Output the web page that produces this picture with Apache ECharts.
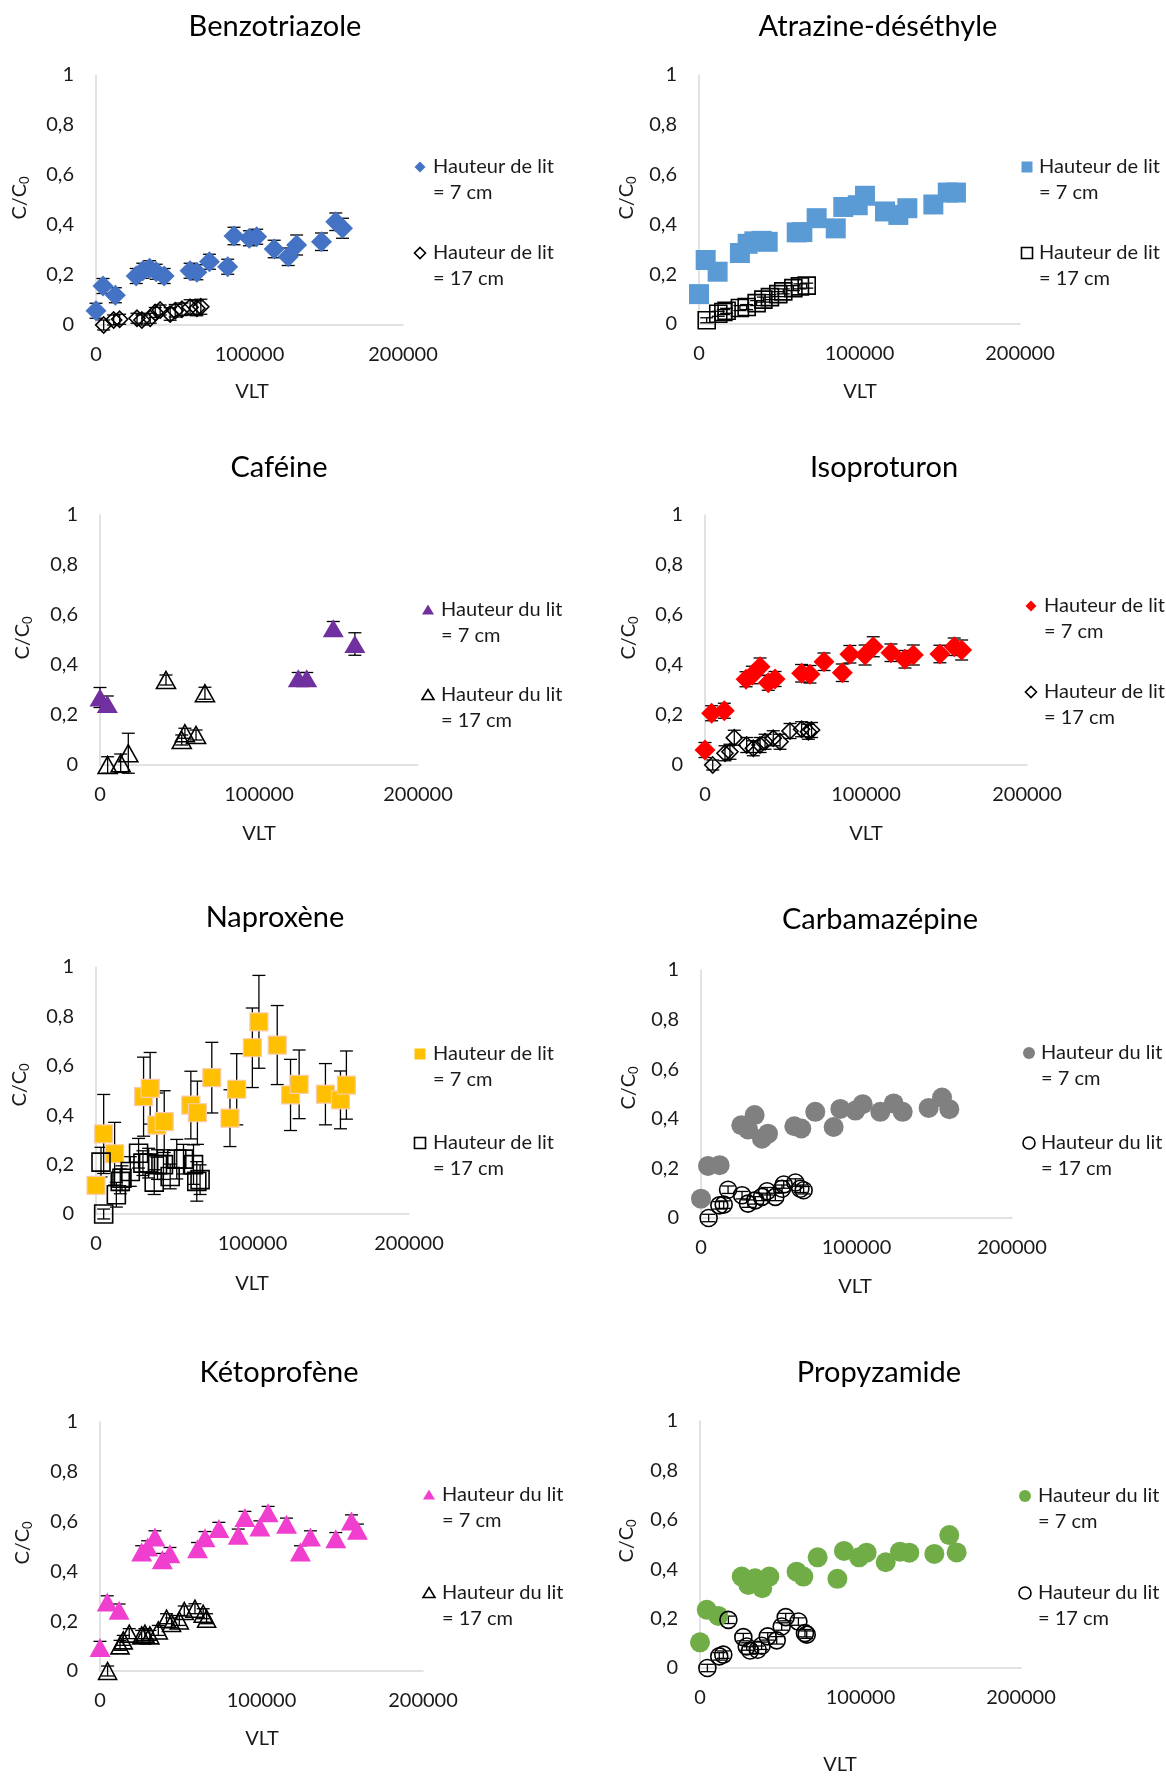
<!DOCTYPE html>
<html><head><meta charset="utf-8">
<script src="https://cdn.jsdelivr.net/npm/echarts@6/dist/echarts.min.js"></script>
<style>html,body{margin:0;padding:0;background:#fff}#c{width:1166px;height:1776px}</style>
</head><body><div id="c"></div>
<script>
// ---- DATA: [VLT, C/C0, error] ----
const xTicks = [0, 100000, 200000];
const yTicks = [0, 0.2, 0.4, 0.6, 0.8, 1];

const benzo7 = [[0,0.057,0.03],[4550,0.156,0.03],[12600,0.119,0.03],[26200,0.196,0.03],[30500,0.217,0.03],[34900,0.227,0.03],[39200,0.213,0.03],[44400,0.196,0.03],[61300,0.217,0.03],[65700,0.211,0.03],[73900,0.253,0.03],[85800,0.233,0.03],[89900,0.356,0.035],[99900,0.347,0.03],[104700,0.353,0.03],[116100,0.304,0.035],[125200,0.273,0.035],[130700,0.32,0.04],[146900,0.333,0.035],[156200,0.413,0.035],[160600,0.387,0.04]];
const benzo17 = [[5000,0.0,0.02],[11500,0.02,0.02],[15400,0.023,0.02],[26700,0.027,0.02],[29900,0.02,0.02],[35300,0.027,0.02],[38600,0.05,0.02],[41800,0.06,0.02],[48300,0.044,0.025],[51600,0.057,0.025],[56000,0.063,0.025],[61300,0.071,0.03],[65700,0.067,0.03],[68300,0.073,0.03]];

const atra7 = [[0,0.12,0.01],[4150,0.257,0.01],[11600,0.21,0.01],[25500,0.285,0.01],[30300,0.322,0.01],[34500,0.332,0.01],[39000,0.334,0.01],[42800,0.33,0.01],[60900,0.368,0.01],[64400,0.369,0.01],[73300,0.425,0.01],[85200,0.384,0.01],[89900,0.47,0.01],[98900,0.477,0.01],[103400,0.515,0.01],[115900,0.452,0.01],[124200,0.438,0.01],[129800,0.465,0.01],[146000,0.48,0.01],[155000,0.528,0.01],[160100,0.528,0.01]];
const atra17 = [[4800,0.015,0.01],[12000,0.041,0.01],[15200,0.048,0.01],[17200,0.053,0.01],[25500,0.064,0.01],[29700,0.068,0.01],[35900,0.084,0.01],[40100,0.098,0.01],[44200,0.108,0.01],[49400,0.12,0.01],[52500,0.131,0.01],[58800,0.144,0.01],[62900,0.151,0.01],[67100,0.154,0.01]];

const caf7 = [[0,0.27,0.04],[4600,0.244,0.032],[124700,0.347,0.023],[130000,0.347,0.023],[146700,0.547,0.027],[160300,0.484,0.045]];
const caf17 = [[4800,0.0,0.033],[13000,0.007,0.037],[17800,0.047,0.08],[41500,0.34,0.02],[51400,0.1,0.02],[53400,0.127,0.02],[60400,0.12,0.02],[66000,0.287,0.024]];

const iso7 = [[0,0.06,0.03],[4100,0.207,0.03],[12000,0.217,0.03],[25500,0.343,0.03],[29400,0.36,0.035],[34200,0.393,0.035],[39300,0.329,0.03],[43500,0.344,0.03],[60000,0.367,0.035],[65200,0.363,0.035],[73900,0.413,0.035],[85300,0.369,0.035],[90000,0.443,0.035],[99400,0.44,0.04],[104500,0.473,0.04],[115500,0.449,0.035],[124200,0.423,0.035],[129400,0.44,0.04],[145900,0.444,0.035],[154800,0.473,0.035],[159400,0.46,0.04]];
const iso17 = [[4800,0.0,0.02],[12400,0.047,0.03],[15500,0.053,0.03],[18200,0.109,0.03],[25900,0.08,0.03],[30000,0.067,0.03],[34200,0.08,0.03],[37300,0.093,0.03],[42400,0.107,0.03],[46600,0.093,0.03],[52800,0.136,0.03],[60000,0.143,0.03],[64200,0.133,0.03],[66200,0.14,0.03]];

const napro7 = [[0,0.116,0.02],[4900,0.324,0.16],[11900,0.244,0.127],[30400,0.475,0.16],[34600,0.509,0.145],[38900,0.36,0.13],[43600,0.374,0.125],[60600,0.441,0.137],[64800,0.41,0.128],[74000,0.552,0.143],[85600,0.388,0.115],[89900,0.505,0.144],[99900,0.673,0.161],[104100,0.778,0.188],[115800,0.684,0.16],[124300,0.482,0.144],[129800,0.525,0.139],[146600,0.485,0.124],[156200,0.462,0.117],[160000,0.522,0.138]];
const napro17 = [[4900,0.0,0.02],[3200,0.21,0.06],[13000,0.078,0.05],[15500,0.132,0.05],[16600,0.145,0.05],[21900,0.172,0.06],[27200,0.246,0.06],[30000,0.206,0.05],[33600,0.206,0.06],[37200,0.129,0.05],[39300,0.2,0.06],[43100,0.2,0.06],[47400,0.152,0.05],[51600,0.222,0.08],[55900,0.222,0.06],[62300,0.2,0.08],[64400,0.132,0.08],[66500,0.139,0.06]];

const carba7 = [[0,0.078,0.01],[4500,0.21,0.01],[12000,0.213,0.01],[25900,0.374,0.01],[30200,0.357,0.01],[34500,0.415,0.01],[39200,0.32,0.01],[43100,0.34,0.01],[60000,0.37,0.01],[64500,0.361,0.01],[73500,0.428,0.01],[85300,0.367,0.01],[89600,0.44,0.01],[99300,0.433,0.01],[104000,0.459,0.01],[115300,0.428,0.01],[123900,0.462,0.01],[129700,0.428,0.01],[146400,0.444,0.01],[155000,0.486,0.01],[159700,0.439,0.01]];
const carba17 = [[4900,0.0,0.015],[11800,0.051,0.015],[14600,0.054,0.015],[17400,0.114,0.015],[26400,0.092,0.015],[30200,0.058,0.015],[34900,0.071,0.015],[39200,0.085,0.015],[42500,0.108,0.015],[47800,0.085,0.015],[52100,0.118,0.015],[53200,0.135,0.015],[60700,0.143,0.015],[63900,0.118,0.015],[66000,0.112,0.015]];

const keto7 = [[0,0.094,0.025],[4500,0.277,0.025],[11800,0.244,0.025],[25800,0.478,0.025],[29500,0.498,0.025],[34000,0.538,0.025],[38600,0.447,0.025],[43300,0.471,0.025],[60400,0.491,0.025],[65000,0.535,0.025],[73600,0.572,0.025],[85600,0.545,0.025],[89700,0.616,0.025],[99000,0.578,0.025],[104100,0.636,0.025],[115500,0.589,0.025],[124100,0.478,0.025],[130300,0.538,0.025],[146000,0.531,0.025],[155700,0.602,0.025],[159400,0.565,0.025]];
const keto17 = [[4700,0.0,0.02],[12400,0.103,0.02],[14400,0.123,0.02],[18100,0.15,0.02],[25800,0.143,0.02],[27800,0.15,0.02],[30900,0.143,0.02],[36100,0.163,0.02],[41200,0.21,0.02],[44300,0.193,0.02],[49100,0.203,0.02],[52200,0.241,0.02],[58800,0.25,0.02],[63900,0.23,0.02],[66000,0.21,0.02]];

const propy7 = [[0,0.104,0.01],[4200,0.236,0.01],[11400,0.211,0.01],[26000,0.37,0.01],[30100,0.336,0.01],[34300,0.363,0.01],[38800,0.323,0.01],[43200,0.37,0.01],[60200,0.39,0.01],[64400,0.37,0.01],[73300,0.448,0.01],[85600,0.361,0.01],[89700,0.474,0.01],[99100,0.448,0.01],[103800,0.467,0.01],[115700,0.428,0.01],[124600,0.471,0.01],[130400,0.467,0.01],[146000,0.462,0.01],[155300,0.538,0.01],[159900,0.468,0.01]];
const propy17 = [[4600,0.0,0.015],[12000,0.047,0.015],[14500,0.054,0.015],[17700,0.195,0.015],[27000,0.125,0.015],[29100,0.087,0.015],[31200,0.071,0.015],[35900,0.074,0.015],[38400,0.09,0.015],[42200,0.128,0.015],[47800,0.112,0.015],[50900,0.168,0.015],[53400,0.206,0.015],[61300,0.188,0.015],[65400,0.141,0.015],[66500,0.135,0.015]];

const titles = ['Benzotriazole','Atrazine-déséthyle','Caféine','Isoproturon','Naproxène','Carbamazépine','Kétoprofène','Propyzamide'];
const legendWords = ['de','de','du','de','de','du','du','du'];

// ---- LAYOUT ----
const FONT = 'Lato';
const panels = [
 {grid:{left:96,top:75,width:307,height:250}, t:[275,27], vlt:[252,392], cc:[20,198], leg:[420,433,167,253], sym:'diamond', color:'#4472C4', border:null, s7:benzo7, s17:benzo17, z7:21, z17:16},
 {grid:{left:699,top:75,width:321,height:249}, t:[878,27], vlt:[860,392], cc:[627,198], leg:[1027,1039,167,253], sym:'rect', color:'#5B9BD5', border:null, s7:atra7, s17:atra17, z7:20, z17:17},
 {grid:{left:100,top:515,width:318,height:250}, t:[279,468], vlt:[259,834], cc:[23,638], leg:[428,441,610,695], sym:'triangle', color:'#7030A0', border:null, s7:caf7, s17:caf17, z7:[21,18], z17:[19,17]},
 {grid:{left:705,top:515,width:322,height:250}, t:[884,468], vlt:[866,834], cc:[629,638], leg:[1031,1044,606,692], sym:'diamond', color:'#FF0000', border:null, s7:iso7, s17:iso17, z7:21, z17:16},
 {grid:{left:96,top:967,width:313,height:247}, t:[275,918], vlt:[252,1284], cc:[20,1085], leg:[420,433,1054,1143], sym:'rect', color:'#FFC000', border:'#F8CBAD', s7:napro7, s17:napro17, z7:18, z17:18},
 {grid:{left:701,top:970,width:311,height:248}, t:[880,920], vlt:[855,1287], cc:[629,1088], leg:[1029,1041,1053,1143], sym:'circle', color:'#808080', border:null, s7:carba7, s17:carba17, z7:20, z17:17},
 {grid:{left:100,top:1422,width:323,height:249}, t:[279,1373], vlt:[262,1739], cc:[23,1543], leg:[429,442,1495,1593], sym:'triangle', color:'#F03FCF', border:null, s7:keto7, s17:keto17, z7:[21,19], z17:[18,17]},
 {grid:{left:700,top:1421,width:321,height:247}, t:[879,1373], vlt:[840,1765], cc:[627,1541], leg:[1025,1038,1496,1593], sym:'circle', color:'#70AD47', border:null, s7:propy7, s17:propy17, z7:20, z17:17}
];

function errSeries(data, i){
  return {
    type:'custom', xAxisIndex:i, yAxisIndex:i, data:data, clip:false, silent:true,
    encode:{x:0, y:1},
    renderItem:function(params, api){
      const x = api.value(0), y = api.value(1), e = api.value(2);
      const top = api.coord([x, y + e]), bot = api.coord([x, Math.max(y - e, -0.05)]);
      const w = 6.5, st = {stroke:'#000', lineWidth:1.3};
      return {type:'group', children:[
        {type:'line', shape:{x1:top[0], y1:top[1], x2:bot[0], y2:bot[1]}, style:st},
        {type:'line', shape:{x1:top[0]-w, y1:top[1], x2:top[0]+w, y2:top[1]}, style:st},
        {type:'line', shape:{x1:bot[0]-w, y1:bot[1], x2:bot[0]+w, y2:bot[1]}, style:st}
      ]};
    }
  };
}

function legendShape(sym, cx, cy, fill, stroke){
  const st = {fill:fill, stroke:stroke || fill, lineWidth: stroke ? 1.6 : 0};
  const r = 5.5;
  if (sym === 'diamond') return {type:'polygon', shape:{points:[[cx,cy-r],[cx+r,cy],[cx,cy+r],[cx-r,cy]]}, style:st};
  if (sym === 'rect') return {type:'rect', shape:{x:cx-r, y:cy-r, width:2*r, height:2*r}, style:st};
  if (sym === 'triangle') return {type:'polygon', shape:{points:[[cx,cy-r],[cx+r+0.5,cy+r-1],[cx-r-0.5,cy+r-1]]}, style:st};
  return {type:'circle', shape:{cx:cx, cy:cy, r:r+0.5}, style:st};
}

const grids = [], xAxes = [], yAxes = [], series = [], graphics = [];
const axisLineStyle = {color:'#D9D9D9', width:1.5};
panels.forEach(function(p, i){
  grids.push(Object.assign({containLabel:false}, p.grid));
  xAxes.push({type:'value', gridIndex:i, min:xTicks[0], max:xTicks[xTicks.length-1], interval:xTicks[1]-xTicks[0],
    axisLine:{show:true, onZero:false, lineStyle:axisLineStyle}, axisTick:{show:false}, splitLine:{show:false},
    axisLabel:{fontFamily:FONT, fontSize:20, color:'#1a1a1a', margin:20, formatter:function(v){ return String(v); }}});
  yAxes.push({type:'value', gridIndex:i, min:yTicks[0], max:yTicks[yTicks.length-1], interval:yTicks[1]-yTicks[0],
    axisLine:{show:true, lineStyle:axisLineStyle}, axisTick:{show:false}, splitLine:{show:false},
    axisLabel:{fontFamily:FONT, fontSize:20, color:'#1a1a1a', margin:22,
      formatter:function(v){ return (v === 0 || v === 1) ? String(v) : v.toFixed(1).replace('.', ','); }}});
  // 7 cm series
  series.push(errSeries(p.s7, i));
  series.push({type:'scatter', name:'Hauteur ' + legendWords[i] + ' lit = 7 cm', xAxisIndex:i, yAxisIndex:i, clip:false,
    symbol:p.sym, symbolSize:p.z7, data:p.s7.map(function(d){return [d[0], d[1]];}),
    itemStyle:{color:p.color, opacity:1, borderColor:p.border || p.color, borderWidth:p.border ? 1.2 : 0}});
  // 17 cm series
  series.push(errSeries(p.s17, i));
  series.push({type:'scatter', name:'Hauteur ' + legendWords[i] + ' lit = 17 cm', xAxisIndex:i, yAxisIndex:i, clip:false,
    symbol:p.sym, symbolSize:p.z17, data:p.s17.map(function(d){return [d[0], d[1]];}),
    itemStyle:{color:'rgba(255,255,255,0)', opacity:1, borderColor:'#000', borderWidth:1.6}});
  // titles
  graphics.push({type:'text', x:p.t[0], y:p.t[1], style:{text:titles[i], font:'29px ' + FONT, fill:'#000', align:'center', verticalAlign:'middle'}});
  // axis titles
  graphics.push({type:'text', x:p.vlt[0], y:p.vlt[1], style:{text:'VLT', font:'20px ' + FONT, fill:'#1a1a1a', align:'center', verticalAlign:'middle'}});
  graphics.push({type:'text', x:p.cc[0], y:p.cc[1], rotation:Math.PI/2,
    style:{text:'C/C{s|0}', font:'20px ' + FONT, fontFamily:FONT, fontSize:20, fill:'#1a1a1a', align:'center', verticalAlign:'middle',
      rich:{s:{fontFamily:FONT, fontSize:13, fill:'#1a1a1a', padding:[9,0,0,0]}}}});
  // legend
  const L = p.leg;
  graphics.push(legendShape(p.sym, L[0], L[2], p.color, null));
  graphics.push({type:'text', x:L[1], y:L[2] - 13, style:{text:'Hauteur ' + legendWords[i] + ' lit\n= 7 cm', font:'20px ' + FONT, fill:'#1a1a1a', lineHeight:26, align:'left', verticalAlign:'top'}});
  graphics.push(legendShape(p.sym, L[0], L[3], '#fff', '#000'));
  graphics.push({type:'text', x:L[1], y:L[3] - 13, style:{text:'Hauteur ' + legendWords[i] + ' lit\n= 17 cm', font:'20px ' + FONT, fill:'#1a1a1a', lineHeight:26, align:'left', verticalAlign:'top'}});
});

const chart = echarts.init(document.getElementById('c'), null, {renderer:'canvas'});
chart.setOption({
  animation:false, backgroundColor:'#fff',
  textStyle:{fontFamily:FONT},
  grid:grids, xAxis:xAxes, yAxis:yAxes, series:series, graphic:graphics
});
</script></body></html>
